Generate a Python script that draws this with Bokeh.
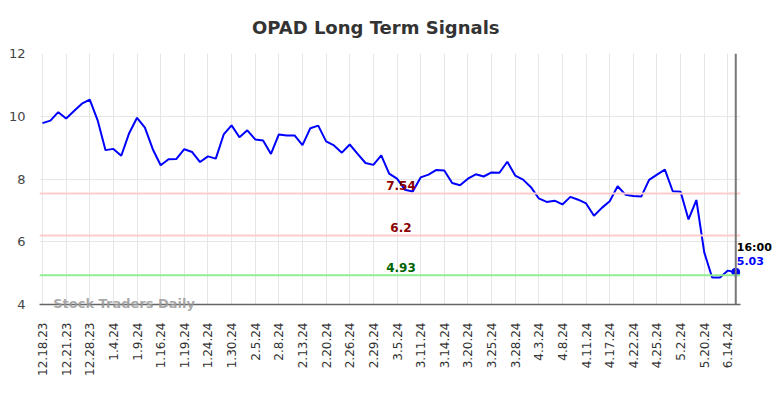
import numpy as np
from bokeh.plotting import figure
from bokeh.models import Span, Label, FixedTicker, ColumnDataSource
from bokeh.embed import file_html
from bokeh.resources import INLINE

title_text = "OPAD Long Term Signals"

values = [9.78, 9.86, 10.13, 9.93, 10.17, 10.40, 10.53, 9.87, 8.92, 8.96,
          8.74, 9.46, 9.95, 9.64, 8.95, 8.44, 8.63, 8.64, 8.95, 8.86,
          8.54, 8.72, 8.65, 9.42, 9.71, 9.33, 9.55, 9.26, 9.23, 8.80,
          9.42, 9.39, 9.39, 9.08, 9.62, 9.70, 9.20, 9.07, 8.84, 9.10,
          8.80, 8.51, 8.45, 8.75, 8.17, 8.01, 7.66, 7.60, 8.05, 8.14,
          8.29, 8.27, 7.87, 7.80, 8.01, 8.15, 8.08, 8.21, 8.20, 8.55,
          8.11, 7.98, 7.74, 7.38, 7.27, 7.31, 7.19, 7.43, 7.34, 7.22,
          6.83, 7.08, 7.29, 7.77, 7.50, 7.46, 7.44, 7.97, 8.14, 8.30,
          7.61, 7.59, 6.71, 7.33, 5.66, 4.86, 4.86, 5.08, 5.03]

tick_labels = ["12.18.23", "12.21.23", "12.28.23", "1.4.24", "1.9.24", "1.16.24",
               "1.19.24", "1.24.24", "1.30.24", "2.5.24", "2.8.24", "2.13.24",
               "2.20.24", "2.26.24", "2.29.24", "3.5.24", "3.11.24", "3.14.24",
               "3.20.24", "3.25.24", "3.28.24", "4.3.24", "4.8.24", "4.11.24",
               "4.17.24", "4.22.24", "4.25.24", "5.2.24", "5.20.24", "6.14.24"]
tick_step = 3

level_values = [7.54, 6.2, 4.93]
level_texts = ["7.54", "6.2", "4.93"]
level_line_colors = ["#ffcccc", "#ffcccc", "#90ee90"]
level_text_colors = ["#8b0000", "#8b0000", "#006400"]

last_time = "16:00"
last_value_text = "5.03"
y_ticks = [4, 6, 8, 10, 12]

FONT = "DejaVu Sans"

x = list(range(len(values)))
n = len(values)

p = figure(width=784, height=398, output_backend="svg", toolbar_location=None,
           x_range=(-0.38, n - 1 + 0.6), y_range=(4, 12),
           min_border_left=39, min_border_right=44, min_border_top=53,
           min_border_bottom=94)
p.outline_line_color = None
p.background_fill_color = "white"

tick_pos = [i * tick_step for i in range(len(tick_labels))]
p.xaxis.ticker = FixedTicker(ticks=tick_pos)
p.xaxis.major_label_overrides = {t: l for t, l in zip(tick_pos, tick_labels)}
p.xaxis.major_label_orientation = np.pi / 2
p.xaxis.major_tick_out = 0
p.xaxis.major_tick_in = 0
p.xaxis.minor_tick_line_color = None
p.xaxis.major_label_standoff = 18
p.xaxis.major_label_text_font = FONT
p.xaxis.major_label_text_font_size = "12px"
p.xaxis.major_label_text_color = "#333333"
p.xaxis.axis_line_color = "#666666"
p.xaxis.axis_line_width = 1.5

p.yaxis.ticker = FixedTicker(ticks=y_ticks)
p.yaxis.major_tick_out = 0
p.yaxis.major_tick_in = 0
p.yaxis.minor_tick_line_color = None
p.yaxis.axis_line_color = None
p.yaxis.major_label_standoff = 14
p.yaxis.major_label_text_font = FONT
p.yaxis.major_label_text_font_size = "13px"
p.yaxis.major_label_text_color = "#444444"

p.xgrid.grid_line_color = "#e6e6e6"
p.ygrid.grid_line_color = "#e6e6e6"

for v, t, lc, tc in zip(level_values, level_texts, level_line_colors, level_text_colors):
    p.add_layout(Span(location=v, dimension="width", line_color=lc, line_width=2))
    p.add_layout(Label(x=45.5, y=v, text=t, text_align="center", text_baseline="middle",
                       y_offset=8, text_font=FONT, text_font_size="12px",
                       text_font_style="bold", text_color=tc))

p.add_layout(Span(location=n - 1, dimension="height", line_color="#777777", line_width=2))

src = ColumnDataSource(dict(x=x, y=values))
p.line("x", "y", source=src, line_color="#0000ff", line_width=2)
p.scatter([x[-1]], [values[-1]], size=8, color="#0000ff")

# labels placed in side panels so they are not clipped to the frame
p.add_layout(Label(x=n - 1, y=values[-1], text=last_time, text_align="left",
                   text_baseline="middle", x_offset=1, y_offset=24.5, text_font=FONT,
                   text_font_size="11px", text_font_style="bold", text_color="#000000"), "above")
p.add_layout(Label(x=n - 1, y=values[-1], text=last_value_text, text_align="left",
                   text_baseline="middle", x_offset=1, y_offset=11.5, text_font=FONT,
                   text_font_size="11px", text_font_style="bold", text_color="#0000ff"), "right")

p.add_layout(Label(x=1.36, y=4, text="Stock Traders Daily", text_align="left",
                   text_baseline="middle", y_offset=1.5, text_font=FONT, text_font_size="13px",
                   text_font_style="bold", text_color="#999999", text_alpha=0.85), "below")

p.add_layout(Label(x=42.3, y=12.84, text=title_text, text_align="center",
                   text_baseline="middle", text_font=FONT, text_font_size="18px",
                   text_font_style="bold", text_color="#333333"), "above")

open("out.html", "w").write(file_html(p, INLINE))
